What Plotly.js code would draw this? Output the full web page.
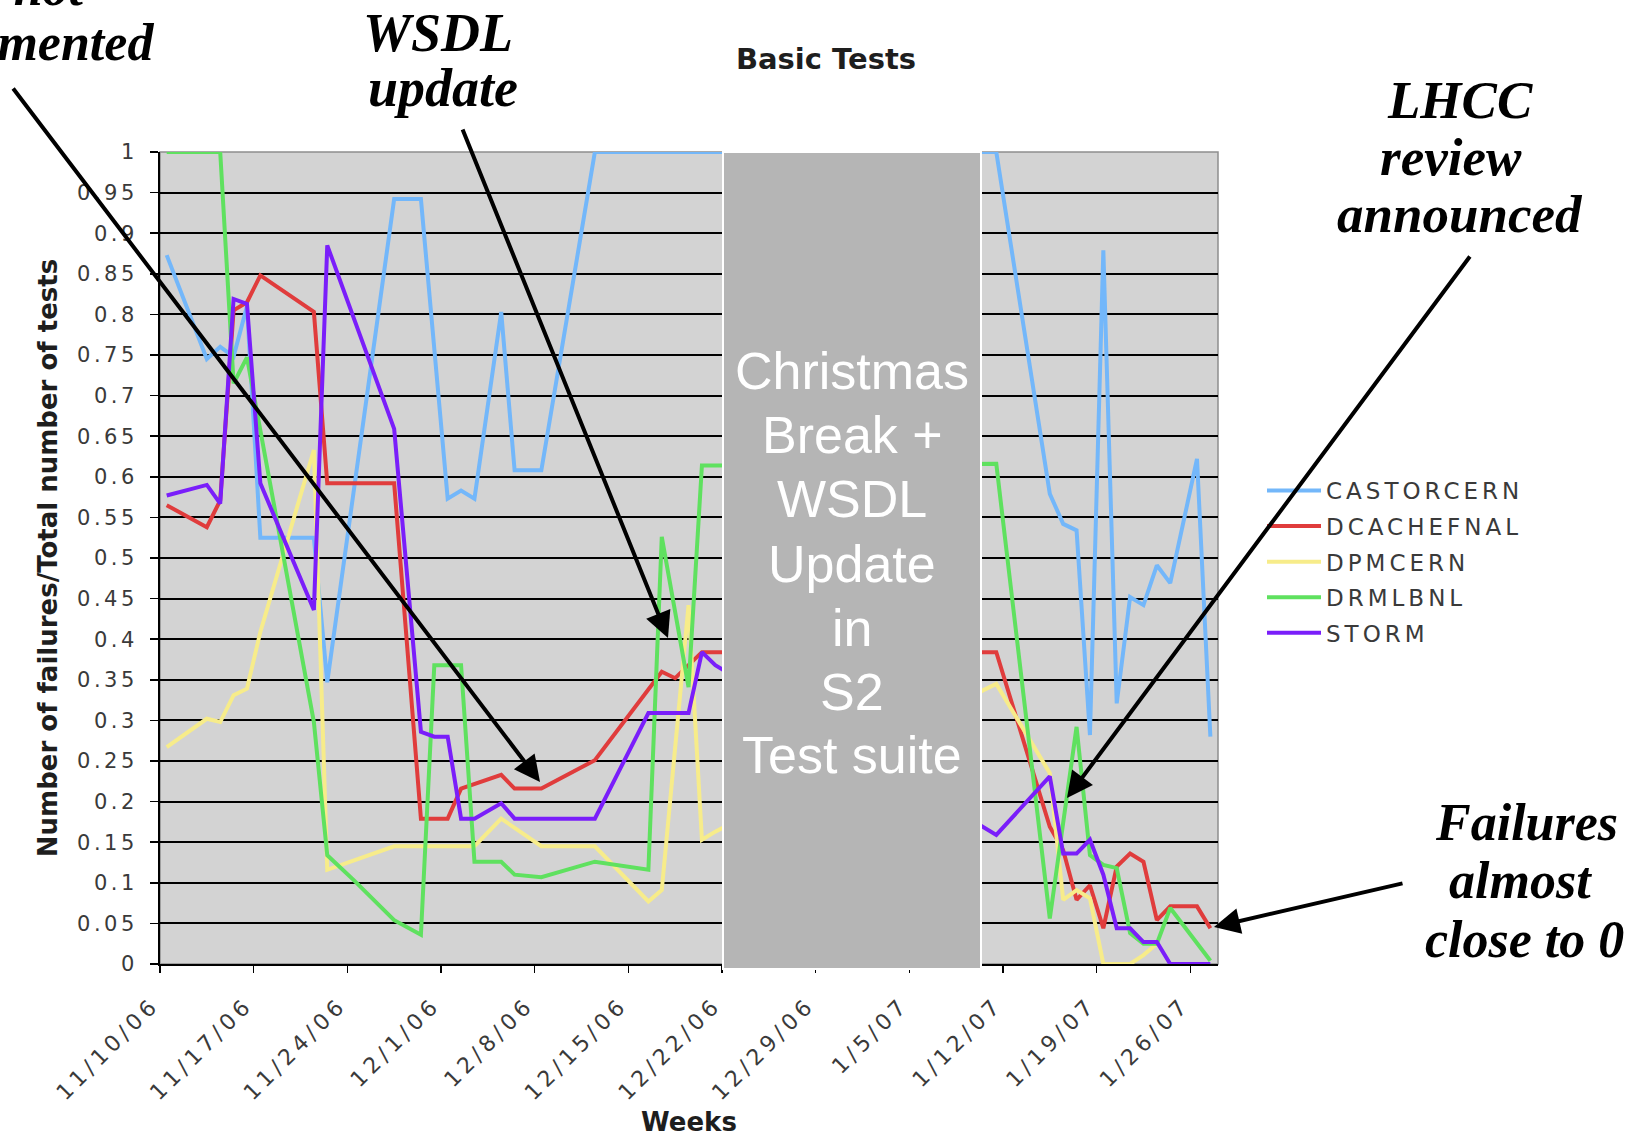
<!DOCTYPE html>
<html>
<head>
<meta charset="utf-8">
<script src="https://cdn.plot.ly/plotly-3.0.1.min.js"></script>
<style>
html, body { margin: 0; padding: 0; background: #ffffff; }
#chart { width: 1630px; height: 1137px; }
.ytick text { letter-spacing: 3.5px; }
.xtick text { letter-spacing: 4.5px; }
.legendtext { letter-spacing: 4px; }
</style>
</head>
<body>
<div id="chart"></div>
<script>
// ---------------- data ----------------
const seriesNames = ['CASTORCERN', 'DCACHEFNAL', 'DPMCERN', 'DRMLBNL', 'STORM'];

const castorDates = ['2006-11-10','2006-11-13','2006-11-14','2006-11-15','2006-11-16','2006-11-17','2006-11-21','2006-11-22','2006-11-27','2006-11-29','2006-12-01','2006-12-02','2006-12-03','2006-12-05','2006-12-06','2006-12-08','2006-12-12','2006-12-21','2007-01-10','2007-01-11','2007-01-15','2007-01-16','2007-01-17','2007-01-18','2007-01-19','2007-01-20','2007-01-21','2007-01-22','2007-01-23','2007-01-24','2007-01-26','2007-01-27'];
const castorValues = [0.873,0.745,0.760,0.748,0.810,0.525,0.525,0.347,0.942,0.942,0.573,0.583,0.573,0.803,0.608,0.608,1.0,1.0,1.0,1.0,0.579,0.542,0.534,0.282,0.879,0.321,0.452,0.442,0.491,0.469,0.622,0.280];

const dcacheDates = ['2006-11-10','2006-11-13','2006-11-14','2006-11-15','2006-11-16','2006-11-17','2006-11-21','2006-11-22','2006-11-27','2006-11-29','2006-12-01','2006-12-02','2006-12-05','2006-12-06','2006-12-08','2006-12-12','2006-12-17','2006-12-18','2006-12-20','2006-12-21','2007-01-10','2007-01-11','2007-01-15','2007-01-16','2007-01-17','2007-01-18','2007-01-19','2007-01-20','2007-01-21','2007-01-22','2007-01-23','2007-01-24','2007-01-26','2007-01-27'];
const dcacheValues = [0.565,0.538,0.571,0.805,0.815,0.848,0.803,0.592,0.592,0.179,0.179,0.216,0.233,0.216,0.216,0.251,0.360,0.352,0.384,0.384,0.384,0.384,0.169,0.140,0.079,0.097,0.044,0.120,0.136,0.126,0.054,0.071,0.071,0.044];

const dpmDates = ['2006-11-10','2006-11-13','2006-11-14','2006-11-15','2006-11-16','2006-11-17','2006-11-21','2006-11-22','2006-11-27','2006-12-03','2006-12-05','2006-12-08','2006-12-12','2006-12-16','2006-12-17','2006-12-19','2006-12-20','2006-12-21','2007-01-10','2007-01-11','2007-01-15','2007-01-16','2007-01-17','2007-01-18','2007-01-19','2007-01-21','2007-01-22','2007-01-23'];
const dpmValues = [0.267,0.302,0.298,0.331,0.339,0.409,0.633,0.116,0.145,0.145,0.179,0.145,0.145,0.077,0.091,0.442,0.153,0.163,0.337,0.345,0.235,0.079,0.091,0.081,0.0,0.0,0.011,0.025];

const drmDates = ['2006-11-10','2006-11-14','2006-11-15','2006-11-16','2006-11-21','2006-11-22','2006-11-24','2006-11-27','2006-11-29','2006-11-30','2006-12-02','2006-12-03','2006-12-05','2006-12-06','2006-12-08','2006-12-12','2006-12-16','2006-12-17','2006-12-19','2006-12-20','2006-12-21','2007-01-10','2007-01-11','2007-01-15','2007-01-17','2007-01-18','2007-01-19','2007-01-20','2007-01-21','2007-01-22','2007-01-23','2007-01-24','2007-01-27'];
const drmValues = [1.0,1.0,0.715,0.747,0.298,0.134,0.103,0.054,0.036,0.368,0.368,0.126,0.126,0.110,0.107,0.126,0.116,0.526,0.341,0.614,0.614,0.616,0.616,0.056,0.292,0.134,0.122,0.118,0.038,0.025,0.025,0.069,0.004];

const stormDates = ['2006-11-10','2006-11-13','2006-11-14','2006-11-15','2006-11-16','2006-11-17','2006-11-21','2006-11-22','2006-11-27','2006-11-29','2006-11-30','2006-12-01','2006-12-02','2006-12-03','2006-12-05','2006-12-06','2006-12-12','2006-12-16','2006-12-19','2006-12-20','2006-12-21','2007-01-10','2007-01-11','2007-01-15','2007-01-16','2007-01-17','2007-01-18','2007-01-19','2007-01-20','2007-01-21','2007-01-22','2007-01-23','2007-01-24','2007-01-27'];
const stormValues = [0.577,0.590,0.567,0.819,0.813,0.592,0.436,0.885,0.659,0.286,0.280,0.280,0.179,0.179,0.198,0.179,0.179,0.309,0.309,0.384,0.368,0.169,0.159,0.231,0.136,0.136,0.153,0.110,0.044,0.044,0.027,0.027,0.0,0.0];

const xTickDates = ['2006-11-10','2006-11-17','2006-11-24','2006-12-01','2006-12-08','2006-12-15','2006-12-22','2006-12-29','2007-01-05','2007-01-12','2007-01-19','2007-01-26'];
const xTickLabels = ['11/10/06','11/17/06','11/24/06','12/1/06','12/8/06','12/15/06','12/22/06','12/29/06','1/5/07','1/12/07','1/19/07','1/26/07'];
const yTickValues = [0,0.05,0.1,0.15,0.2,0.25,0.3,0.35,0.4,0.45,0.5,0.55,0.6,0.65,0.7,0.75,0.8,0.85,0.9,0.95,1];
const yTickLabels = ['0','0.05','0.1','0.15','0.2','0.25','0.3','0.35','0.4','0.45','0.5','0.55','0.6','0.65','0.7','0.75','0.8','0.85','0.9','0.95','1'];
const breakLines = ['Christmas', 'Break +', 'WSDL', 'Update', 'in', 'S2', 'Test suite'];

// ---------------- styling / placement ----------------
const seriesColors = ['#73b7fa', '#e03c3c', '#f7ec8a', '#5fe15f', '#7a1efa'];
const allDates = [castorDates, dcacheDates, dpmDates, drmDates, stormDates];
const allValues = [castorValues, dcacheValues, dpmValues, drmValues, stormValues];

const PL = 160, PR = 1218, PT = 152, PB = 964;   // plot area in page pixels
const px = x => (x - PL) / (PR - PL);
const py = y => (PB - y) / (PB - PT);

const traces = seriesNames.map((name, i) => ({
  type: 'scatter',
  mode: 'lines',
  name: name,
  legendgroup: name,
  x: allDates[i],
  y: allValues[i],
  xperiod: 86400000,
  xperiodalignment: 'middle',
  line: { color: seriesColors[i], width: 4 },
  hoverinfo: 'skip'
}));

const serif = (size) => ({ family: 'Liberation Serif, Times New Roman, serif', size: size, color: '#000', weight: 'bold', style: 'italic' });
function label(text, x, y, size, anchor) {
  return { xref: 'paper', yref: 'paper', x: px(x), y: py(y), text: text, showarrow: false,
           xanchor: anchor || 'center', yanchor: 'middle', font: serif(size) };
}
function arrow(tailX, tailY, tipX, tipY) {
  return { xref: 'paper', yref: 'paper', x: px(tipX), y: py(tipY), ax: tailX - tipX, ay: tailY - tipY,
           axref: 'pixel', ayref: 'pixel', text: '', showarrow: true, arrowhead: 2, arrowsize: 1.3,
           arrowwidth: 4, arrowcolor: '#000', standoff: 0, startstandoff: 0 };
}

const breakCenters = [371, 434.5, 499, 563.5, 628, 691.5, 755];
const annotations = [
  label('is not', 87, -12, 52, 'right'),
  label('implemented', 156, 42, 52, 'right'),
  label('WSDL', 438, 33, 54),
  label('update', 443, 88, 54),
  label('LHCC', 1460, 100, 53),
  label('review', 1451, 157, 53),
  label('announced', 1460, 214, 53),
  label('Failures', 1526, 822, 52),
  label('almost', 1520, 880, 52),
  label('close to 0', 1524, 939, 52)
].concat(breakLines.map((t, i) => ({
    xref: 'paper', yref: 'paper', x: px(852), y: py(breakCenters[i]), showarrow: false,
    xanchor: 'center', yanchor: 'middle', text: t,
    font: { family: 'Liberation Sans, Arial, sans-serif', size: 52, color: '#ffffff' } })))
 .concat([
  arrow(12, 87, 540, 782),
  arrow(462, 128, 668, 638),
  arrow(1471, 255, 1067, 798),
  arrow(1404, 883, 1214, 927)
]);

const tickFont = { family: 'DejaVu Sans, Verdana, sans-serif', size: 21, color: '#3a3a3a' };

const layout = {
  width: 1630, height: 1137,
  margin: { l: PL, r: 1630 - PR, t: PT, b: 1137 - PB, pad: 0 },
  paper_bgcolor: '#ffffff',
  plot_bgcolor: '#d3d3d3',
  font: { family: 'DejaVu Sans, Verdana, sans-serif', color: '#333' },
  title: { text: 'Basic Tests', font: { family: 'DejaVu Sans, Verdana, sans-serif', size: 29, color: '#1e1e1e', weight: 'bold' },
           xref: 'container', yref: 'container', x: 826 / 1630, xanchor: 'center', y: 1 - 59 / 1137, yanchor: 'middle' },
  xaxis: {
    type: 'date', range: ['2006-11-10', '2007-01-28 01:40'],
    tickmode: 'array', tickvals: xTickDates, ticktext: xTickLabels, tickangle: -45,
    ticks: 'outside', ticklen: 7, tickwidth: 1.5, tickcolor: '#000', ticklabelstandoff: 10, ticklabelshift: -7,
    showline: true, linecolor: '#000', linewidth: 2, showgrid: false, zeroline: false,
    tickfont: { family: 'DejaVu Sans, Verdana, sans-serif', size: 22, color: '#3a3a3a' }, automargin: false,
    title: { text: 'Weeks', font: { family: 'DejaVu Sans, Verdana, sans-serif', size: 26, color: '#1e1e1e', weight: 'bold' }, standoff: 27 }
  },
  yaxis: {
    range: [0, 1], tickmode: 'array', tickvals: yTickValues, ticktext: yTickLabels,
    ticks: 'outside', ticklen: 8, tickwidth: 1.5, tickcolor: '#000', ticklabelstandoff: 8,
    showline: true, linecolor: '#000', linewidth: 2,
    showgrid: true, gridcolor: '#000', gridwidth: 2, zeroline: false,
    tickfont: tickFont, automargin: false,
    title: { text: 'Number of failures/Total number of tests', font: { family: 'DejaVu Sans, Verdana, sans-serif', size: 26, color: '#1e1e1e', weight: 'bold' }, standoff: 12 }
  },
  showlegend: true,
  legend: {
    x: px(1262), xanchor: 'left', y: py(469), yanchor: 'top',
    bgcolor: 'rgba(0,0,0,0)', borderwidth: 0, traceorder: 'grouped', tracegroupgap: 2.7,
    font: { family: 'DejaVu Sans, Verdana, sans-serif', size: 23, color: '#3a3a3a' },
    itemwidth: 54
  },
  shapes: [
    { type: 'rect', xref: 'paper', yref: 'paper', x0: 0, x1: 1, y0: 0, y1: 1,
      line: { color: '#8f8f8f', width: 1.5 }, layer: 'below' },
    { type: 'rect', xref: 'paper', yref: 'paper', x0: px(723), x1: px(981), y0: py(969), y1: py(152),
      fillcolor: '#b5b5b5', line: { color: '#ffffff', width: 2 }, layer: 'above' }
  ],
  annotations: annotations
};

Plotly.newPlot('chart', traces, layout, { staticPlot: true, displayModeBar: false });
</script>
</body>
</html>
